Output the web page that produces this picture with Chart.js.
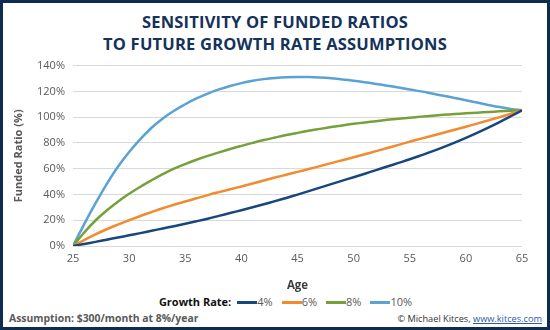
<!DOCTYPE html>
<html>
<head>
<meta charset="utf-8">
<script src="https://cdn.jsdelivr.net/npm/chart.js@4/dist/chart.umd.min.js"></script>
<style>
    body { margin: 0; background: #fff; }
    #frame {
        position: relative;
        width: 550px;
        height: 330px;
        box-sizing: border-box;
        border: 3px solid #0c2c52;
        font-family: "Open Sans", sans-serif;
        overflow: hidden;
    }
    #title {
        position: absolute;
        left: 0; right: 0; top: 8px;
        text-align: center;
        color: #14325a;
        font-weight: 700;
        font-size: 16.5px;
        line-height: 22px;
        letter-spacing: 0.2px;
    }
    #chartBox { position: absolute; left: 0; top: 48px; width: 544px; height: 242px; }
    #legend {
        position: absolute;
        left: 30px; right: 0; top: 291px;
        text-align: center;
        font-size: 11px;
        color: #595959;
        white-space: nowrap;
    }
    #legend .lead { font-weight: 700; color: #111; margin-right: 6px; }
    #legend .item { margin-right: 9px; }
    #legend .swatch { display: inline-block; width: 20px; height: 3px; vertical-align: middle; margin-bottom: 2px; }
    #note {
        position: absolute; left: 6px; top: 308px;
        font-size: 10.4px; font-weight: 700; color: #595959;
    }
    #credit {
        position: absolute; right: 5px; top: 309px;
        font-size: 9.2px; color: #333;
    }
    #credit a { color: #2a5d9f; text-decoration: underline; }
</style>
</head>
<body>
<div id="frame">
    <div id="title">SENSITIVITY OF FUNDED RATIOS<br>TO FUTURE GROWTH RATE ASSUMPTIONS</div>
    <div id="chartBox"><canvas id="fundedChart"></canvas></div>
    <div id="legend"></div>
    <div id="note">Assumption: $300/month at 8%/year</div>
    <div id="credit">© Michael Kitces, <a>www.kitces.com</a></div>
</div>
<script>
// Ages 25..65
const ages = [25, 26, 27, 28, 29, 30, 31, 32, 33, 34, 35, 36, 37, 38, 39, 40, 41, 42, 43, 44, 45,
    46, 47, 48, 49, 50, 51, 52, 53, 54, 55, 56, 57, 58, 59, 60, 61, 62, 63, 64, 65];

// Funded ratio (%) by growth rate
const rate4 = [0, 1.6, 3.2, 4.9, 6.6, 8.3, 10, 11.8, 13.6, 15.4, 17.3, 19.2, 21.2, 23.4, 25.6, 27.8,
    30.1, 32.4, 34.8, 37.3, 39.9, 42.6, 45.3, 48, 50.7, 53.4, 56.1, 58.9, 61.7, 64.5, 67.3,
    70.3, 73.4, 76.7, 80.2, 83.9, 87.8, 91.9, 96.2, 100.7, 105.3];
const rate6 = [0, 4.6, 9, 13, 16.6, 20, 23.3, 26.3, 29.3, 32, 34.5, 37, 39.5, 41.8, 44, 46.2,
    48.5, 50.8, 53.1, 55.3, 57.5, 59.7, 62, 64.3, 66.6, 68.9, 71.2, 73.6, 76, 78.5, 81,
    83.3, 85.6, 87.9, 90.2, 92.6, 95, 97.5, 100, 102.6, 105.3];
const rate8 = [0, 10.5, 19.8, 27.6, 34.4, 40.5, 46, 51, 55.7, 60, 63.6, 66.9, 69.9, 72.7, 75.3, 77.7,
    80, 82.2, 84.2, 86.1, 87.8, 89.4, 90.9, 92.3, 93.6, 94.8, 95.9, 96.9, 97.9, 98.8, 99.6,
    100.4, 101.1, 101.8, 102.4, 103, 103.5, 104, 104.5, 104.9, 105.3];
const rate10 = [0, 17, 33, 48, 61.5, 73, 83, 91.8, 99, 105, 110, 114.5, 118.3, 121.5, 124.2, 126.4,
    128.2, 129.5, 130.4, 131, 131.2, 131.1, 130.7, 130.1, 129.3, 128.3, 127.1, 125.8, 124.4, 123, 121.5,
    120, 118.3, 116.6, 114.9, 113.1, 111.3, 109.5, 107.8, 106.4, 105.3];

const seriesNames = ['4%', '6%', '8%', '10%'];
const seriesColors = ['#18477d', '#f28a2e', '#76a13a', '#5aa2d5'];
const yTicks = [0, 20, 40, 60, 80, 100, 120, 140];
const xTicks = [25, 30, 35, 40, 45, 50, 55, 60, 65];

document.addEventListener('DOMContentLoaded', function () {
    renderFundedChart();
    renderLegend();
});

function renderFundedChart() {
    const ctx = document.getElementById('fundedChart').getContext('2d');
    const allSeries = [rate4, rate6, rate8, rate10];

    const datasets = allSeries.map((values, i) => ({
        label: seriesNames[i],
        data: values.map((v, j) => ({ x: ages[j], y: v })),
        borderColor: seriesColors[i],
        backgroundColor: seriesColors[i],
        borderWidth: 2.5,
        pointRadius: 0,
        tension: 0.4,
    }));

    window.fundedChart = new Chart(ctx, {
        type: 'line',
        data: { datasets: datasets },
        options: {
            responsive: true,
            maintainAspectRatio: false,
            animation: false,
            layout: { padding: { left: 9, right: 25, top: 12, bottom: 0 } },
            scales: {
                x: {
                    type: 'linear',
                    min: xTicks[0],
                    max: xTicks[xTicks.length - 1],
                    afterBuildTicks: scale => { scale.ticks = xTicks.map(v => ({ value: v })); },
                    grid: { display: false, drawTicks: false },
                    border: { display: false },
                    ticks: { color: '#595959', font: { family: 'Open Sans', size: 11 }, padding: 6 },
                    title: {
                        display: true,
                        text: 'Age',
                        color: '#404040',
                        font: { family: 'Open Sans', size: 11.5, weight: 'bold' },
                        padding: { top: 8, bottom: 0 }
                    }
                },
                y: {
                    min: 0,
                    max: yTicks[yTicks.length - 1],
                    afterBuildTicks: scale => { scale.ticks = yTicks.map(v => ({ value: v })); },
                    afterFit: scale => { scale.width = 61; },
                    grid: { color: '#d9d9d9', lineWidth: 1, drawTicks: false },
                    border: { display: false },
                    ticks: {
                        color: '#595959',
                        font: { family: 'Open Sans', size: 11 },
                        padding: 8,
                        callback: v => v + '%'
                    },
                    title: {
                        display: true,
                        text: 'Funded Ratio (%)',
                        color: '#595959',
                        font: { family: 'Open Sans', size: 11, weight: 'bold' },
                        padding: { top: 0, bottom: 0 }
                    }
                }
            },
            plugins: {
                legend: { display: false },
                tooltip: { enabled: false }
            }
        }
    });
}

function renderLegend() {
    const box = document.getElementById('legend');
    let html = '<span class="lead">Growth Rate:</span>';
    seriesNames.forEach((name, i) => {
        html += '<span class="item"><span class="swatch" style="background:' + seriesColors[i] + '"></span>' + name + '</span>';
    });
    box.innerHTML = html;
}
</script>
</body>
</html>
